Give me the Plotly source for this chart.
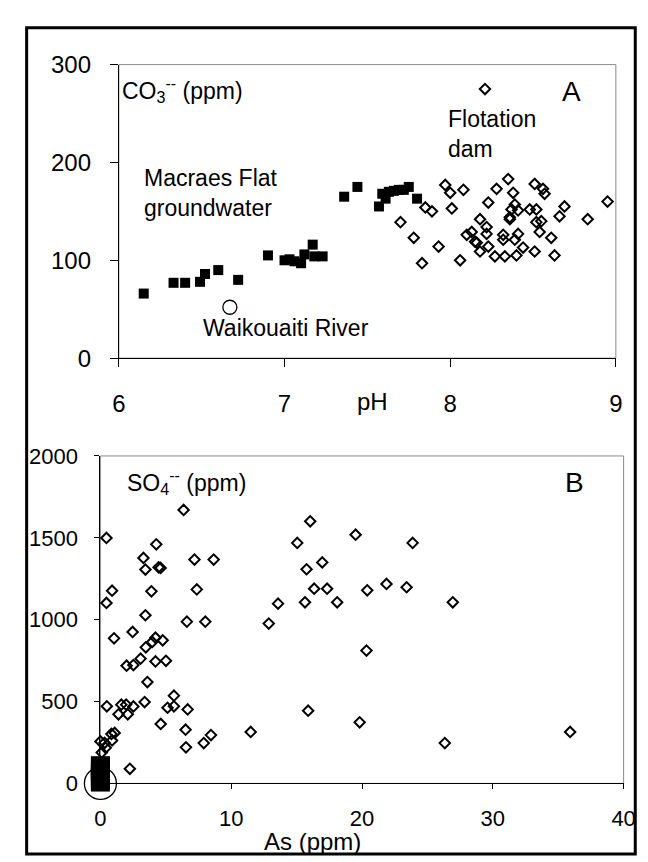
import plotly.graph_objects as go

# ---------------- Panel A data (pH vs CO3--) ----------------
ph_macraes = [6.15, 6.33, 6.40, 6.49, 6.52, 6.60, 6.72, 6.90, 7.00, 7.03, 7.06, 7.10, 7.12,
              7.17, 7.18, 7.23, 7.36, 7.44, 7.57, 7.59, 7.61, 7.63, 7.66, 7.69, 7.72, 7.75, 7.80]
co3_macraes = [66, 77, 77, 78, 86, 90, 80, 105, 100, 101, 99, 97, 106,
               116, 104, 104, 165, 175, 155, 168, 163, 170, 171, 172, 172, 175, 163]

ph_dam = [8.21, 7.70, 7.78, 7.83, 7.85, 7.89, 7.97, 8.00, 8.01, 7.93, 8.06, 8.08, 8.18, 8.23,
          8.28, 8.35, 8.38, 8.39, 8.37, 8.36, 8.41, 8.48, 8.51, 8.56, 8.57, 8.52, 8.52, 8.55,
          8.54, 8.61, 8.66, 8.69, 8.83, 8.95, 8.63, 8.51, 8.44, 8.40, 8.39, 8.41, 8.33, 8.27,
          8.32, 8.32, 8.23, 8.18, 8.16, 8.15, 8.10, 8.13, 8.22, 8.22, 8.36]
co3_dam = [275, 139, 123, 97, 154, 150, 177, 169, 153, 114, 100, 172, 142, 159,
           173, 183, 169, 157, 152, 142, 151, 152, 178, 173, 168, 152, 139, 140,
           129, 123, 145, 155, 142, 160, 105, 109, 113, 105, 121, 127, 104, 104,
           126, 121, 114, 109, 118, 119, 126, 129, 134, 127, 144]

ph_river = [6.67]
co3_river = [52]

# ---------------- Panel B data (As vs SO4--) ----------------
as_dam = [6.36, 16.04, 19.51, 0.46, 15.05, 23.87, 4.27, 3.29, 7.19, 8.66, 16.96, 4.45, 4.60,
          3.44, 15.76, 21.87, 23.41, 7.37, 16.34, 17.33, 20.40, 0.89, 3.90, 0.46, 13.58,
          15.64, 18.10, 26.94, 3.44, 6.61, 8.02, 12.87, 1.04, 2.46, 4.21, 3.96, 4.76, 3.47,
          20.34, 3.07, 4.21, 5.01, 2.00, 2.52, 3.59, 5.62, 3.38, 0.49, 1.60, 1.97, 2.52,
          1.38, 2.09, 5.13, 5.62, 6.67, 15.88, 4.61, 19.82, 6.51, 8.45, 11.49, 35.91, 7.90,
          6.54, 26.33, 0.00, 0.32, 0.84, 1.09, 0.89, 0.40, 0.10, 2.25]
so4_dam = [1670, 1601, 1519, 1499, 1469, 1469, 1460, 1377, 1367, 1367, 1350, 1320, 1316,
           1306, 1308, 1218, 1198, 1185, 1189, 1189, 1179, 1177, 1173, 1102, 1098,
           1106, 1106, 1106, 1027, 988, 988, 976, 886, 925, 890, 864, 874, 831,
           811, 762, 745, 749, 719, 723, 619, 536, 497, 471, 481, 481, 470,
           422, 422, 462, 471, 452, 444, 363, 373, 328, 295, 314, 314, 246,
           220, 246, 256, 248, 302, 308, 262, 217, 189, 89]

as_macraes = [0, 0, 0, 0, 0, 0, 0, 0]
so4_macraes = [8, 20, 35, 50, 65, 80, 95, 108]

as_river = [0]
so4_river = [0]

W, H = 648, 862
FONT = "Liberation Sans, Arial, sans-serif"


def px(x):
    return x / W


def py(y):
    return 1 - y / H


fig = go.Figure()

dia = dict(symbol="diamond-open", size=8, color="black", line=dict(width=2, color="black"))

# Panel A traces
fig.add_trace(go.Scatter(x=ph_dam, y=co3_dam, mode="markers", marker=dia,
                         xaxis="x", yaxis="y", cliponaxis=False, showlegend=False))
fig.add_trace(go.Scatter(x=ph_macraes, y=co3_macraes, mode="markers",
                         marker=dict(symbol="square", size=10, color="black"),
                         xaxis="x", yaxis="y", cliponaxis=False, showlegend=False))
fig.add_trace(go.Scatter(x=ph_river, y=co3_river, mode="markers",
                         marker=dict(symbol="circle", size=14, color="white",
                                     line=dict(width=1.3, color="black")),
                         xaxis="x", yaxis="y", cliponaxis=False, showlegend=False))

# Panel B traces
fig.add_trace(go.Scatter(x=as_river, y=so4_river, mode="markers",
                         marker=dict(symbol="circle-open", size=32, color="black",
                                     line=dict(width=1.3, color="black")),
                         xaxis="x2", yaxis="y2", cliponaxis=False, showlegend=False))
fig.add_trace(go.Scatter(x=as_dam, y=so4_dam, mode="markers", marker=dia,
                         xaxis="x2", yaxis="y2", cliponaxis=False, showlegend=False))
fig.add_trace(go.Scatter(x=as_macraes, y=so4_macraes, mode="markers",
                         marker=dict(symbol="square", size=19, color="black"),
                         xaxis="x2", yaxis="y2", cliponaxis=False, showlegend=False))

axis_common = dict(showgrid=False, zeroline=False, showline=True, linecolor="black",
                   linewidth=1, ticks="outside", tickcolor="black", tickwidth=1,
                   tickfont=dict(family=FONT, size=24, color="black"))

fig.update_layout(
    width=W, height=H,
    margin=dict(l=0, r=0, t=0, b=0),
    paper_bgcolor="white", plot_bgcolor="white",
    font=dict(family=FONT, color="black"),
    xaxis=dict(axis_common, domain=[px(107), px(619)], range=[6, 9],
               tickvals=[6, 7, 8, 9], ticklen=8, ticklabelstandoff=16, anchor="y"),
    yaxis=dict(axis_common, domain=[py(347), py(44)], range=[0, 300],
               tickvals=[0, 100, 200, 300], ticklen=8, ticklabelstandoff=14, anchor="x"),
    xaxis2=dict(axis_common, domain=[px(88), px(627)], range=[0, 40],
                tickvals=[0, 10, 20, 30, 40], ticklen=5, ticklabelstandoff=10, anchor="y2",
                tickfont=dict(family=FONT, size=22, color="black")),
    yaxis2=dict(axis_common, domain=[py(786), py(448)], range=[0, 2000],
                tickvals=[0, 500, 1000, 1500, 2000], ticklen=5, ticklabelstandoff=12,
                anchor="x2", tickfont=dict(family=FONT, size=22, color="black")),
)

shapes = [
    # plot frames (gray top/right)
    dict(type="rect", xref="x domain", yref="y domain", x0=0, x1=1, y0=0, y1=1,
         line=dict(color="#8a8a8a", width=1), layer="below"),
    dict(type="rect", xref="x2 domain", yref="y2 domain", x0=0, x1=1, y0=0, y1=1,
         line=dict(color="#8a8a8a", width=1), layer="below"),
    # white strip outside the outer frame (clips the last tick label like the original)
    dict(type="rect", xref="paper", yref="paper", x0=px(640), x1=1, y0=0, y1=1,
         line=dict(width=0), fillcolor="white", layer="above"),
    # outer border
    dict(type="rect", xref="paper", yref="paper", x0=px(12), x1=px(639), y0=py(859), y1=py(6),
         line=dict(color="black", width=3), layer="above"),
]
fig.update_layout(shapes=shapes)


def ann(text, x, y, size=23, xanchor="left", yanchor="middle"):
    return dict(text=text, x=px(x), y=py(y), xref="paper", yref="paper", showarrow=False,
                xanchor=xanchor, yanchor=yanchor, align="left",
                font=dict(family=FONT, size=size, color="black"))


annotations = [
    ann("CO<sub>3</sub><sup>--</sup> (ppm)", 108, 70, 23),
    ann("A", 573, 72, 28, xanchor="center"),
    ann("Macraes Flat<br>groundwater", 131, 177, 23),
    ann("Flotation<br>dam", 444, 116, 23),
    ann("Waikouaiti River", 192, 316, 23),
    ann("pH", 368, 392, 24, xanchor="center"),
    ann("SO<sub>4</sub><sup>--</sup> (ppm)", 113, 475, 23),
    ann("B", 576, 475, 28, xanchor="center"),
    ann("As (ppm)", 307, 846, 24, xanchor="center"),
]
fig.update_layout(annotations=annotations)

fig.write_html("out.html")
